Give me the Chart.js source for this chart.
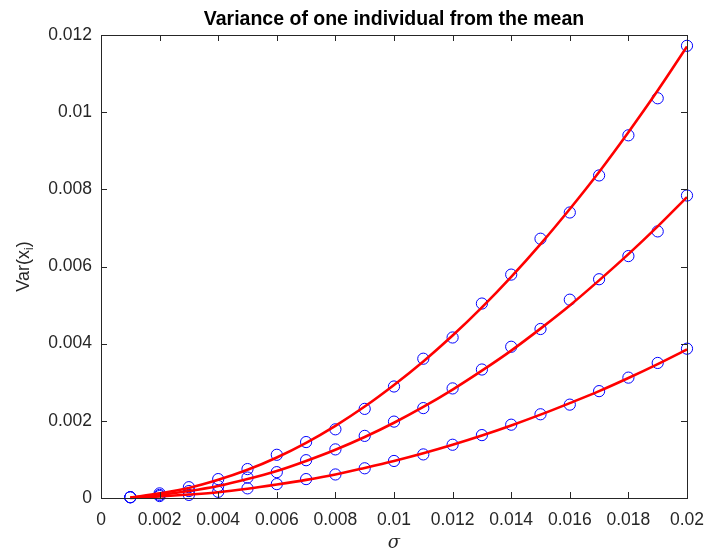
<!DOCTYPE html>
<html>
<head>
<meta charset="utf-8">
<script src="https://cdn.jsdelivr.net/npm/chart.js@4/dist/chart.umd.min.js"></script>
<style>
html,body{margin:0;padding:0;background:#fff;}
#wrap{width:705px;height:553px;}
</style>
</head>
<body>
<div id="wrap"><canvas id="c" width="705" height="553"></canvas></div>
<script>
// ---- data ----
const sigma = [0.001,0.002,0.003,0.004,0.005,0.006,0.007,0.008,0.009,0.010,
               0.011,0.012,0.013,0.014,0.015,0.016,0.017,0.018,0.019,0.020];

// simulated points (blue circles)
const topPoints = [0.00002,0.00012,0.00028,0.00049,0.00075,0.00112,0.00145,0.00178,0.00231,0.00289,
                   0.00361,0.00416,0.00504,0.00579,0.00672,0.00740,0.00836,0.00940,0.01036,0.01172];
const midPoints = [0.00002,0.00008,0.00018,0.00031,0.00053,0.00067,0.00098,0.00126,0.00161,0.00198,
                   0.00233,0.00284,0.00333,0.00392,0.00438,0.00514,0.00567,0.00627,0.00691,0.00784];
const lowPoints = [0.00002,0.00005,0.00008,0.00016,0.00025,0.00036,0.00049,0.00061,0.00077,0.00096,
                   0.00113,0.00138,0.00163,0.00190,0.00217,0.00242,0.00277,0.00312,0.00350,0.00387];

// theoretical curves (red lines)
const topCurve = [0.00001,0.00012,0.00026,0.00047,0.00073,0.00105,0.00143,0.00187,0.00237,0.00293,
                  0.00354,0.00421,0.00494,0.00573,0.00658,0.00749,0.00845,0.00948,0.01056,0.01170];
const midCurve = [0.00001,0.00008,0.00018,0.00031,0.00049,0.00070,0.00096,0.00125,0.00158,0.00195,
                  0.00236,0.00281,0.00330,0.00382,0.00439,0.00499,0.00564,0.00632,0.00704,0.00780];
const lowCurve = [0.00000,0.00004,0.00009,0.00015,0.00024,0.00035,0.00047,0.00061,0.00078,0.00096,
                  0.00116,0.00138,0.00162,0.00188,0.00216,0.00246,0.00277,0.00311,0.00347,0.00385];

const xTicks = [0,0.002,0.004,0.006,0.008,0.01,0.012,0.014,0.016,0.018,0.02];
const yTicks = [0,0.002,0.004,0.006,0.008,0.01,0.012];

const titleText = 'Variance of one individual from the mean';
const xLabel = 'σ';
const yLabelMain = 'Var(x';
const yLabelSub = 'i';
const yLabelEnd = ')';

const AX = '#262626';
const FONT = '"Liberation Sans", Arial, Helvetica, sans-serif';

function pairs(ys){ return sigma.map((x,i)=>({x:x,y:ys[i]})); }
function fmt(v){ return String(parseFloat(Number(v).toFixed(4))); }

function lineDs(ys){
  return {type:'scatter', data:pairs(ys), showLine:true, borderColor:'#ff0000', borderWidth:2.6,
          pointRadius:0, pointHoverRadius:0, fill:false, cubicInterpolationMode:'monotone', order:0, clip:false};
}
function ptDs(ys){
  return {type:'scatter', data:pairs(ys), showLine:false, borderColor:'#0000ff', backgroundColor:'rgba(0,0,0,0)',
          borderWidth:1, pointRadius:5.6, pointStyle:'circle', order:1, clip:false};
}

const boxPlugin = {
  id:'matlabBox',
  afterDraw(chart){
    const ctx = chart.ctx, a = chart.chartArea;
    const xs = chart.scales.x, ys = chart.scales.y;
    ctx.save();
    ctx.strokeStyle = AX; ctx.lineWidth = 1;
    ctx.strokeRect(Math.round(a.left)+0.5, Math.round(a.top)+0.5, Math.round(a.right-a.left), Math.round(a.bottom-a.top));
    const tl = 6;
    ctx.beginPath();
    xTicks.forEach(v=>{
      const px = Math.round(xs.getPixelForValue(v))+0.5;
      ctx.moveTo(px, a.bottom); ctx.lineTo(px, a.bottom-tl);
      ctx.moveTo(px, a.top); ctx.lineTo(px, a.top+tl);
    });
    yTicks.forEach(v=>{
      const py = Math.round(ys.getPixelForValue(v))+0.5;
      ctx.moveTo(a.left, py); ctx.lineTo(a.left+tl, py);
      ctx.moveTo(a.right, py); ctx.lineTo(a.right-tl, py);
    });
    ctx.stroke();
    // title
    ctx.fillStyle = '#000';
    ctx.font = 'bold 19.5px ' + FONT;
    ctx.textAlign = 'center'; ctx.textBaseline = 'alphabetic';
    ctx.fillText(titleText, (a.left+a.right)/2, 25);
    // x label
    ctx.fillStyle = AX;
    ctx.font = 'italic 18px "DejaVu Serif", "Liberation Serif", serif';
    ctx.fillText(xLabel, (a.left+a.right)/2, 548);
    // y label with subscript
    ctx.translate(29, (a.top+a.bottom)/2);
    ctx.rotate(-Math.PI/2);
    ctx.font = '18px ' + FONT;
    const w1 = ctx.measureText(yLabelMain).width;
    ctx.font = '12px ' + FONT;
    const w2 = ctx.measureText(yLabelSub).width;
    ctx.font = '18px ' + FONT;
    const w3 = ctx.measureText(yLabelEnd).width;
    let sx = -(w1+w2+w3)/2;
    ctx.textAlign = 'left';
    ctx.fillText(yLabelMain, sx, 0);
    ctx.font = '12px ' + FONT;
    ctx.fillText(yLabelSub, sx+w1, 4);
    ctx.font = '18px ' + FONT;
    ctx.fillText(yLabelEnd, sx+w1+w2, 0);
    ctx.restore();
  }
};

new Chart(document.getElementById('c'), {
  type:'scatter',
  data:{ datasets:[ lineDs(topCurve), lineDs(midCurve), lineDs(lowCurve),
                    ptDs(topPoints), ptDs(midPoints), ptDs(lowPoints) ] },
  options:{
    responsive:false, animation:false, devicePixelRatio:1,
    layout:{ padding:{ top:35, right:18, left:0, bottom:0 } },
    plugins:{ legend:{display:false}, tooltip:{enabled:false}, title:{display:false} },
    scales:{
      x:{
        type:'linear', min:0, max:0.02,
        grid:{display:false, drawTicks:false}, border:{display:false},
        afterBuildTicks(s){ s.ticks = xTicks.map(v=>({value:v})); },
        afterFit(s){ s.height = 55; s.paddingLeft = 0; s.paddingRight = 0; },
        ticks:{ callback:(v)=>fmt(v), color:AX, padding:12, maxRotation:0, autoSkip:false,
                font:{family:FONT, size:17.5} }
      },
      y:{
        type:'linear', min:0, max:0.012,
        grid:{display:false, drawTicks:false}, border:{display:false},
        afterBuildTicks(s){ s.ticks = yTicks.map(v=>({value:v})); },
        afterFit(s){ s.width = 101; s.paddingTop = 0; s.paddingBottom = 0; },
        ticks:{ callback:(v)=>fmt(v), color:AX, padding:9, autoSkip:false,
                font:{family:FONT, size:17.5} }
      }
    }
  },
  plugins:[boxPlugin]
});
</script>
</body>
</html>
